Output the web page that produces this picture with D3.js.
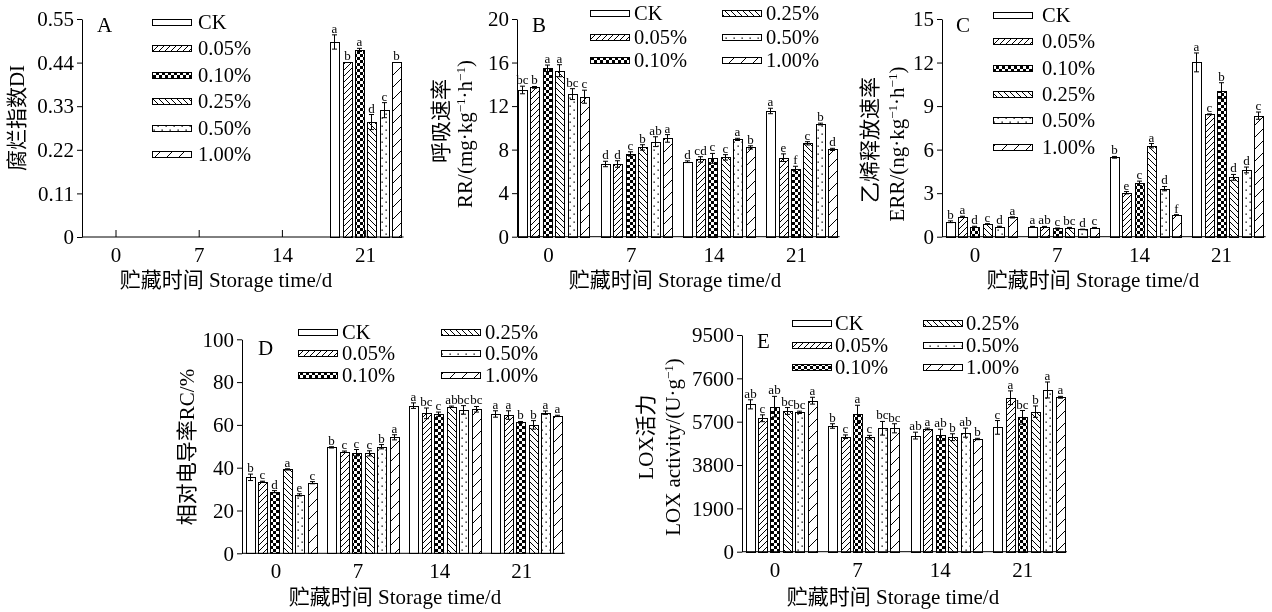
<!DOCTYPE html>
<html>
<head>
<meta charset="utf-8">
<script src="https://cdn.jsdelivr.net/npm/d3@7"></script>
<style>
  body { margin: 0; background: #fff; }
  svg { will-change: transform; }
  svg text { font-family: "Liberation Serif", "Times New Roman", "Noto Sans CJK SC", serif; fill: #000; }
</style>
</head>
<body>
<svg id="chart" width="1272" height="612"></svg>
<script>
const days = ["0", "7", "14", "21"],
    treatments = ["CK", "0.05%", "0.10%", "0.25%", "0.50%", "1.00%"];

// rows = storage day, columns = treatment
// A: decay index (no decay before day 21)
const diMean = [[0, 0, 0, 0, 0, 0], [0, 0, 0, 0, 0, 0], [0, 0, 0, 0, 0, 0],
    [0.492, 0.442, 0.472, 0.290, 0.320, 0.442]];
const diErr = [[0, 0, 0, 0, 0, 0], [0, 0, 0, 0, 0, 0], [0, 0, 0, 0, 0, 0],
    [0.018, 0, 0.004, 0.019, 0.019, 0]];
const diSig = [["", "", "", "", "", ""], ["", "", "", "", "", ""], ["", "", "", "", "", ""],
    ["a", "b", "a", "d", "c", "b"]];

// B: respiration rate
const rrMean = [[13.48, 13.72, 15.47, 15.25, 13.10, 12.86],
    [6.68, 6.68, 7.60, 8.20, 8.73, 9.03],
    [6.89, 7.10, 7.20, 7.29, 8.94, 8.20],
    [11.55, 7.26, 6.22, 8.58, 10.35, 8.02]];
const rrErr = [[0.35, 0.08, 0.30, 0.55, 0.50, 0.60],
    [0.25, 0.30, 0.20, 0.25, 0.45, 0.35],
    [0.08, 0.25, 0.45, 0.25, 0.10, 0.15],
    [0.25, 0.35, 0.25, 0.15, 0.08, 0.10]];
const rrSig = [["bc", "b", "a", "a", "bc", "c"], ["d", "d", "c", "b", "ab", "a"],
    ["d", "cd", "c", "c", "a", "b"], ["a", "e", "f", "c", "b", "d"]];

// C: ethylene release rate
const ethMean = [[1.03, 1.38, 0.69, 0.87, 0.69, 1.33],
    [0.69, 0.69, 0.57, 0.62, 0.50, 0.62],
    [5.47, 3.03, 3.68, 6.27, 3.31, 1.49],
    [12.01, 8.43, 10.06, 4.09, 4.60, 8.34]];
const ethErr = [[0.06, 0.03, 0.03, 0.03, 0.03, 0.04],
    [0.02, 0.02, 0.03, 0.02, 0.02, 0.02],
    [0.06, 0.08, 0.15, 0.15, 0.15, 0.03],
    [0.65, 0.03, 0.55, 0.20, 0.20, 0.25]];
const ethSig = [["b", "a", "d", "c", "d", "a"], ["a", "ab", "c", "bc", "d", "c"],
    ["b", "e", "c", "a", "d", "f"], ["a", "c", "b", "d", "d", "c"]];

// D: relative conductivity
const rcMean = [[35.5, 33.5, 28.8, 39.2, 27.3, 33.0],
    [49.5, 47.5, 47.0, 46.7, 49.8, 54.2],
    [69.0, 65.4, 65.0, 68.5, 67.0, 67.3],
    [65.1, 64.6, 61.2, 60.0, 65.7, 64.2]];
const rcErr = [[1.5, 0.2, 0.5, 0.3, 0.5, 0.5],
    [0.3, 0.3, 1.5, 1.2, 1.0, 1.2],
    [1.3, 2.5, 1.0, 0.3, 2.0, 1.3],
    [1.5, 2.0, 0.4, 2.0, 0.8, 0.3]];
const rcSig = [["b", "c", "d", "a", "e", "c"], ["b", "c", "c", "c", "b", "a"],
    ["a", "bc", "c", "ab", "bc", "bc"], ["a", "a", "b", "b", "a", "a"]];

// E: LOX activity
const loxMean = [[6460, 5850, 6360, 6170, 6110, 6620],
    [5510, 5040, 6020, 5020, 5410, 5410],
    [5090, 5380, 5120, 5020, 5220, 4940],
    [5450, 6750, 5890, 6140, 7090, 6770]];
const loxErr = [[200, 150, 450, 150, 50, 150],
    [100, 80, 400, 80, 300, 200],
    [150, 40, 250, 150, 200, 30],
    [300, 300, 300, 250, 350, 40]];
const loxSig = [["ab", "c", "ab", "bc", "bc", "a"], ["b", "c", "a", "c", "bc", "bc"],
    ["ab", "a", "ab", "b", "ab", "b"], ["c", "a", "bc", "b", "a", "a"]];

const diTicks = [0, 0.11, 0.22, 0.33, 0.44, 0.55],
    rrTicks = [0, 4, 8, 12, 16, 20],
    ethTicks = [0, 3, 6, 9, 12, 15],
    rcTicks = [0, 20, 40, 60, 80, 100],
    loxTicks = [0, 1900, 3800, 5700, 7600, 9500];

const svg = d3.select("#chart"),
    defs = svg.append("defs");

// fill patterns, one per treatment
function hatch(id, s, d, sw) {
    const p = defs.append("pattern").attr("id", id)
        .attr("patternUnits", "userSpaceOnUse")
        .attr("width", s).attr("height", s);
    p.append("rect").attr("width", s).attr("height", s).attr("fill", "#fff");
    p.append("path").attr("d", d).attr("stroke", "#000").attr("stroke-width", sw).attr("fill", "none");
}
const fwd = s => `M0,${s} L${s},0 M-1,1 L1,-1 M${s - 1},${s + 1} L${s + 1},${s - 1}`,
    back = s => `M0,0 L${s},${s} M-1,${s - 1} L1,${s + 1} M${s - 1},-1 L${s + 1},1`;

hatch("pat1", 6, fwd(6), 1);
hatch("pat3", 6, back(6), 1);
hatch("pat5", 12, fwd(12), 1);
const chk = defs.append("pattern").attr("id", "pat2")
    .attr("patternUnits", "userSpaceOnUse").attr("width", 6).attr("height", 6);
chk.append("rect").attr("width", 6).attr("height", 6).attr("fill", "#fff");
chk.append("rect").attr("width", 3).attr("height", 3).attr("fill", "#000");
chk.append("rect").attr("x", 3).attr("y", 3).attr("width", 3).attr("height", 3).attr("fill", "#000");
const dots = defs.append("pattern").attr("id", "pat4")
    .attr("patternUnits", "userSpaceOnUse").attr("width", 8).attr("height", 8);
dots.append("rect").attr("width", 8).attr("height", 8).attr("fill", "#fff");
dots.append("rect").attr("x", 1.5).attr("y", 1.5).attr("width", 1.3).attr("height", 1.3).attr("fill", "#000");
dots.append("rect").attr("x", 5.5).attr("y", 5.5).attr("width", 1.3).attr("height", 1.3).attr("fill", "#000");

const fillOf = j => j === 0 ? "#fff" : `url(#pat${j})`;

const sup = "\u22121";
const panels = [
    { name: "A", mean: diMean, err: diErr, sig: diSig, yMax: 0.55, ticks: diTicks,
      fmt: d => d === 0 ? "0" : d.toFixed(2),
      left: 82, top: 19, bottom: 237, c0: 116, step: 83.2, tickIn: true, shift: 0,
      label: [97, 32], xTitle: [226, 287],
      yTitle: [{ x: 17, y: 118, parts: [["腐烂指数DI"]] }],
      legend: { cols: [{ x: 152, items: [0, 1, 2, 3, 4, 5] }], y0: 21.7, dy: 26.5, gap: 7 } },
    { name: "B", mean: rrMean, err: rrErr, sig: rrSig, yMax: 20, ticks: rrTicks, fmt: d3.format("d"),
      left: 517, top: 19, bottom: 236.7, c0: 553.5, step: 82.7, tickIn: false, shift: -5,
      label: [532, 32], xTitle: [675, 287],
      yTitle: [{ x: 441, y: 121, parts: [["呼吸速率"]] },
               { x: 465, y: 134, parts: [["RR/(mg·kg"], [sup, 1], ["·h"], [sup, 1], [")"]] }],
      legend: { cols: [{ x: 590, items: [0, 1, 2] }, { x: 722, items: [3, 4, 5] }], y0: 13.3, dy: 23.3, gap: 5 } },
    { name: "C", mean: ethMean, err: ethErr, sig: ethSig, yMax: 15, ticks: ethTicks, fmt: d3.format("d"),
      left: 942, top: 19, bottom: 236.7, c0: 981, step: 82.2, tickIn: false, shift: -6,
      label: [956, 32], xTitle: [1093, 287],
      yTitle: [{ x: 870, y: 140, parts: [["乙烯释放速率"]] },
               { x: 897, y: 144, parts: [["ERR/(ng·kg"], [sup, 1], ["·h"], [sup, 1], [")"]] }],
      legend: { cols: [{ x: 993, items: [0, 1, 2, 3, 4, 5] }], y0: 15, dy: 26.3, gap: 10 } },
    { name: "D", mean: rcMean, err: rcErr, sig: rcSig, yMax: 100, ticks: rcTicks, fmt: d3.format("d"),
      left: 242, top: 339.3, bottom: 553.3, c0: 281, step: 81.9, tickIn: false, shift: -5,
      label: [258, 355], xTitle: [395, 604],
      yTitle: [{ x: 187, y: 447, parts: [["相对电导率RC/%"]] }],
      legend: { cols: [{ x: 298, items: [0, 1, 2] }, { x: 441, items: [3, 4, 5] }], y0: 331.7, dy: 21.7, gap: 5 } },
    { name: "E", mean: loxMean, err: loxErr, sig: loxSig, yMax: 9500, ticks: loxTicks, fmt: d3.format("d"),
      left: 742, top: 335, bottom: 551.7, c0: 781, step: 82.6, tickIn: false, shift: -6,
      label: [757, 348], xTitle: [893, 604],
      yTitle: [{ x: 646, y: 437, parts: [["LOX活力"]] },
               { x: 673, y: 447, parts: [["LOX activity/(U·g"], [sup, 1], [")"]] }],
      legend: { cols: [{ x: 792, items: [0, 1, 2] }, { x: 923, items: [3, 4, 5] }], y0: 323.3, dy: 21.7, gap: 4 } }
];

function richText(sel, parts) {
    let raised = false;
    parts.forEach(([t, isSup]) => {
        const ts = sel.append("tspan").text(t);
        if (isSup && !raised) { ts.attr("dy", -7).attr("font-size", 13); raised = true; }
        else if (isSup) ts.attr("font-size", 13);
        else if (raised) { ts.attr("dy", 7); raised = false; }
    });
}

function drawPanel(p) {
    const g = svg.append("g");
    const y = d3.scaleLinear().domain([0, p.yMax]).range([p.bottom, p.top]);
    const x0 = d3.scaleBand().domain(days)
            .range([p.c0 - p.step / 2, p.c0 - p.step / 2 + p.step * days.length]),
        x1 = d3.scaleBand().domain(treatments).range([-35.5, 35.5]).paddingInner(0.3),
        right = x0(days[days.length - 1]) + x0.bandwidth() / 2 + 38;

    const cells = [];
    days.forEach((d, i) => treatments.forEach((t, j) => {
        if (p.mean[i][j] > 0)
            cells.push({ day: d, trt: t, j, v: p.mean[i][j], e: p.err[i][j], s: p.sig[i][j] });
    }));
    const cx = c => Math.round(x0(c.day) + x0.bandwidth() / 2 + x1(c.trt)) + 0.5;

    g.append("g").selectAll("rect")
        .data(cells).enter().append("rect")
        .attr("x", cx).attr("width", Math.round(x1.bandwidth()))
        .attr("y", c => Math.round(y(c.v)) + 0.5).attr("height", c => Math.round(y(0)) - Math.round(y(c.v)))
        .attr("fill", c => fillOf(c.j))
        .attr("stroke", "#000").attr("stroke-width", 1);

    // error bars
    const mid = c => cx(c) + Math.round(x1.bandwidth() / 2);
    const eb = g.append("g").attr("stroke", "#000").attr("stroke-width", 1)
        .selectAll("g").data(cells.filter(c => c.e > 0)).enter().append("g")
        .attr("transform", c => `translate(${mid(c)},0)`);
    eb.append("line").attr("y1", c => y(c.v - c.e)).attr("y2", c => y(c.v + c.e));
    eb.append("line").attr("x1", -2.5).attr("x2", 2.5).attr("y1", c => y(c.v + c.e)).attr("y2", c => y(c.v + c.e));
    eb.append("line").attr("x1", -2.5).attr("x2", 2.5).attr("y1", c => y(c.v - c.e)).attr("y2", c => y(c.v - c.e));

    g.append("g").selectAll("text")
        .data(cells).enter().append("text")
        .attr("x", mid)
        .attr("y", c => y(c.v + c.e) - 2)
        .attr("text-anchor", "middle").attr("font-size", 13)
        .text(c => c.s);

    // axes
    const ya = g.append("g").attr("transform", `translate(${p.left},0)`)
        .call(d3.axisLeft(y).tickValues(p.ticks).tickSize(5).tickSizeOuter(0).tickFormat(p.fmt));
    ya.attr("font-family", null).attr("font-size", 21);
    ya.selectAll("line, path").attr("stroke", "#000");

    const xa = g.append("g").attr("transform", `translate(0,${p.bottom})`)
        .call(d3.axisBottom(x0).tickSize(p.tickIn ? -7 : 0).tickPadding(10));
    xa.attr("font-family", null).attr("font-size", 21);
    xa.select(".domain").remove();
    xa.selectAll("line").attr("stroke", "#000");
    xa.selectAll("text").attr("dx", p.shift);
    g.append("line").attr("x1", p.left).attr("x2", right)
        .attr("y1", p.bottom).attr("y2", p.bottom).attr("stroke", "#000");

    g.append("text").attr("x", p.label[0]).attr("y", p.label[1]).attr("font-size", 21).text(p.name);

    g.append("text").attr("x", p.xTitle[0]).attr("y", p.xTitle[1])
        .attr("text-anchor", "middle").attr("font-size", 21)
        .text("贮藏时间 Storage time/d");

    p.yTitle.forEach(t => {
        const tx = g.append("text")
            .attr("transform", `translate(${t.x},${t.y}) rotate(-90)`)
            .attr("text-anchor", "middle").attr("dy", "0.35em").attr("font-size", 21);
        richText(tx, t.parts);
    });

    // legend
    p.legend.cols.forEach(col => col.items.forEach((j, k) => {
        const yc = Math.round(p.legend.y0 + k * p.legend.dy);
        g.append("rect").attr("x", col.x + 0.5).attr("y", yc - 2.5)
            .attr("width", 39).attr("height", 6)
            .attr("fill", fillOf(j)).attr("stroke", "#000").attr("stroke-width", 1);
        g.append("text").attr("x", col.x + 39 + p.legend.gap).attr("y", yc)
            .attr("dy", "0.35em").attr("font-size", 20.5).text(treatments[j]);
    }));
}

panels.forEach(drawPanel);
</script>
</body>
</html>
